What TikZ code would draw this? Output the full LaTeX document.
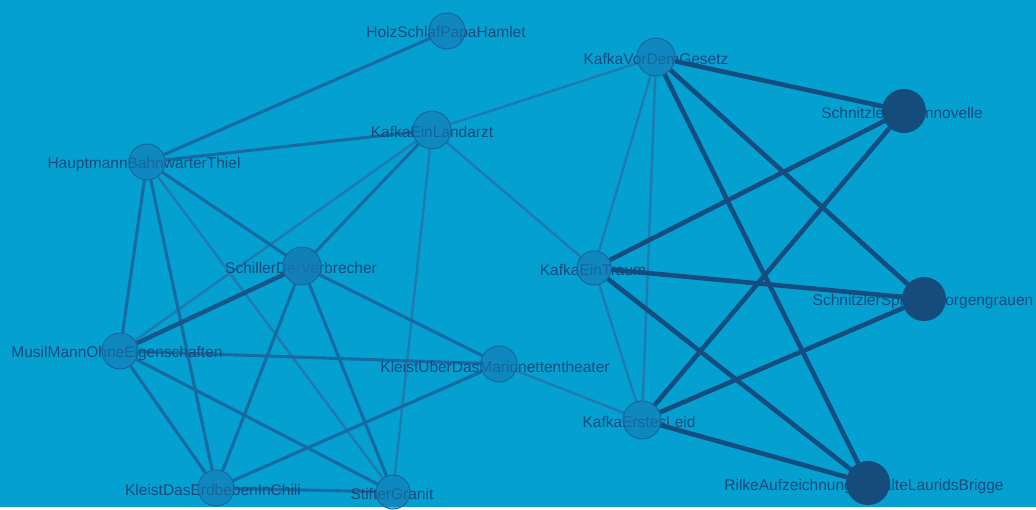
\documentclass[tikz,border=0pt]{standalone}
\usepackage{fontspec}
\setmainfont{Liberation Sans}
\usetikzlibrary{arrows,positioning}
\pgfdeclarelayer{back}
\pgfdeclarelayer{links}
\pgfdeclarelayer{titles}
\pgfsetlayers{back,links,titles,main}
\definecolor{bgblue}{HTML}{04A0D0}
\definecolor{txtblue}{HTML}{174A7E}
\definecolor{weakline}{HTML}{1F7AB2}
\definecolor{midline}{HTML}{176BA2}
\definecolor{strongline}{HTML}{154D80}
\definecolor{workfill}{HTML}{1679B2}
\definecolor{workline}{HTML}{1866A0}
\definecolor{bigfill}{HTML}{164C7C}
\tikzset{font=\fontsize{15.5}{16}\selectfont}
\tikzset{work/.style={circle,draw=workline,fill=workfill,fill opacity=0.6,
    draw opacity=1,line width=1pt,minimum size=36pt,inner sep=0pt}}
\tikzset{bigwork/.style={work,draw=bigfill,fill=bigfill,fill opacity=1,minimum size=43pt}}
\tikzset{title/.style={text=txtblue,inner sep=0pt}}
\tikzset{weak/.style={draw=weakline,line width=2.4pt}}
\tikzset{mid/.style={draw=midline,line width=3.1pt}}
\tikzset{strong/.style={draw=strongline,line width=4.6pt}}

\begin{document}
\begin{tikzpicture}[x=1pt,y=-1pt]
  \begin{pgfonlayer}{back}
    \fill[bgblue] (0,0) rectangle (1036,507);
  \end{pgfonlayer}

  % left group
  \node[work] (holz) at (447,31) {};
  \node[work,minimum size=38pt] (landarzt) at (432,130) {};
  \node[work] (hauptmann) at (147,162) {};
  \node[work,minimum size=38pt,fill opacity=0.8] (schiller) at (302,266) {};
  \node[work] (musil) at (120,351) {};
  \node[work] (marionette) at (499,364) {};
  \node[work] (erdbeben) at (216,488) {};
  \node[work,minimum size=34pt] (stifter) at (393,492) {};
  % right group
  \node[work,minimum size=38pt] (vorgesetz) at (656,57) {};
  \node[work,minimum size=34pt] (eintraum) at (594,268) {};
  \node[work,minimum size=38pt] (erstesleid) at (642,420) {};
  \node[bigwork] (traumnovelle) at (904,111) {};
  \node[bigwork] (morgengrauen) at (924,299) {};
  \node[bigwork] (rilke) at (868,483) {};

  \begin{pgfonlayer}{titles}
    \node[title] (holz-t) at ([xshift=-1pt,yshift=-2pt]holz) {HolzSchlafPapaHamlet};
    \node[title] (landarzt-t) at ([xshift=0pt,yshift=-2pt]landarzt) {KafkaEinLandarzt};
    \node[title] (hauptmann-t) at ([xshift=-3pt,yshift=-2pt]hauptmann) {HauptmannBahnwärterThiel};
    \node[title] (schiller-t) at ([xshift=-1pt,yshift=-2pt]schiller) {SchillerDerVerbrecher};
    \node[title] (musil-t) at ([xshift=-3pt,yshift=-2pt]musil) {MusilMannOhneEigenschaften};
    \node[title] (marionette-t) at ([xshift=-4pt,yshift=-3pt]marionette) {KleistUberDasMarionettentheater};
    \node[title] (erdbeben-t) at ([xshift=-3pt,yshift=-2pt]erdbeben) {KleistDasErdbebenInChili};
    \node[title] (stifter-t) at ([xshift=-1pt,yshift=-2pt]stifter) {StifterGranit};
    \node[title] (vorgesetz-t) at ([xshift=0pt,yshift=-2pt]vorgesetz) {KafkaVorDemGesetz};
    \node[title] (eintraum-t) at ([xshift=-1pt,yshift=-2pt]eintraum) {KafkaEinTraum};
    \node[title] (erstesleid-t) at ([xshift=-3pt,yshift=-2pt]erstesleid) {KafkaErstesLeid};
    \node[title] (traumnovelle-t) at ([xshift=-2pt,yshift=-2pt]traumnovelle) {SchnitzlerTraumnovelle};
    \node[title] (morgengrauen-t) at ([xshift=-1pt,yshift=-2pt]morgengrauen) {SchnitzlerSpielImMorgengrauen};
    \node[title] (rilke-t) at ([xshift=-4pt,yshift=-3pt]rilke) {RilkeAufzeichnungenMalteLauridsBrigge};
  \end{pgfonlayer}

  \begin{pgfonlayer}{links}
    \foreach \a/\b in {landarzt/vorgesetz, landarzt/eintraum, landarzt/stifter,
        landarzt/musil, hauptmann/stifter, marionette/erstesleid,
        vorgesetz/eintraum, vorgesetz/erstesleid, eintraum/erstesleid}
      \draw[weak] (\a)--(\b);
    \foreach \a/\b in {holz/hauptmann, landarzt/hauptmann, landarzt/schiller,
        hauptmann/musil, hauptmann/erdbeben, hauptmann/schiller,
        schiller/marionette, schiller/erdbeben, schiller/stifter,
        musil/marionette, musil/erdbeben, musil/stifter,
        marionette/erdbeben, erdbeben/stifter}
      \draw[mid] (\a)--(\b);
    \draw[mid,line width=4.4pt,draw=strongline!70!midline] (schiller)--(musil);
    \foreach \a/\b in {vorgesetz/traumnovelle, vorgesetz/rilke, vorgesetz/morgengrauen,
        traumnovelle/eintraum, traumnovelle/erstesleid, eintraum/morgengrauen,
        eintraum/rilke, erstesleid/morgengrauen, erstesleid/rilke}
      \draw[strong] (\a)--(\b);
  \end{pgfonlayer}
\end{tikzpicture}
\end{document}
